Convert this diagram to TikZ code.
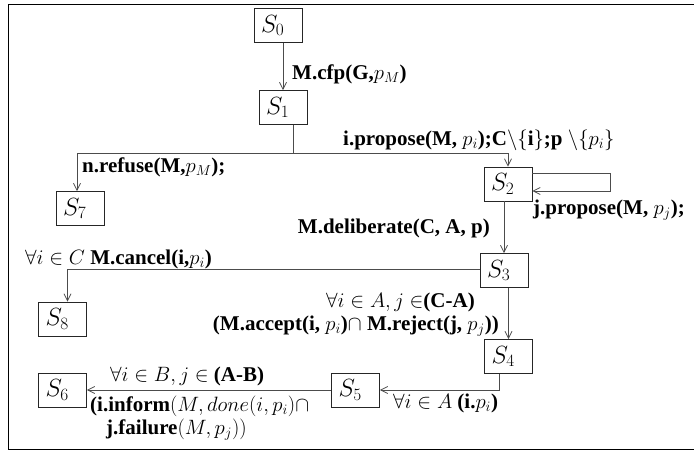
\documentclass[tikz,border=0pt]{standalone}
\usepackage{fontspec}
\setmainfont{Liberation Serif}
\usetikzlibrary{arrows.meta}
\newcommand\stlab[1]{\makebox[34pt][l]{$S_{#1}$}}
\begin{document}
\begin{tikzpicture}[x=1pt,y=-1pt,
  st/.style={draw=black!85, line width=0.8pt, minimum height=34pt, inner xsep=7pt, inner ysep=0pt, font=\fontsize{25}{25}\selectfont},
  lbl/.style={inner sep=0pt, font=\fontsize{21}{23}\selectfont\bfseries},
  conn/.style={draw=black!70, line width=0.8pt},
  arr/.style={conn, -{Straight Barb[length=7pt,width=7pt]}}
]
\useasboundingbox (0,0) rectangle (694,451);
\draw[line width=0.9pt] (8.5,4.5) rectangle (700,449.5);

% states
\node[st] (S0) at (278,25.5) {\stlab{0}};
\node[st] (S1) at (283,107.5) {\stlab{1}};
\node[st] (S2) at (508,184) {\stlab{2}};
\node[st] (S7) at (80,208.5) {\stlab{7}};
\node[st] (S3) at (504,270.5) {\stlab{3}};
\node[st] (S8) at (62.5,319) {\stlab{8}};
\node[st] (S4) at (508.5,356.5) {\stlab{4}};
\node[st] (S5) at (355.5,390) {\stlab{5}};
\node[st] (S6) at (62.5,390) {\stlab{6}};

% helper points
\coordinate (J) at (293,153);
\coordinate (L1) at (610,173);
\coordinate (L2) at (610,191);

% connectors
\draw[arr] (S0.south -| S1.north) -- (S1.north);
\draw[conn] ([xshift=10pt]S1.south) -- (J);
\draw[arr] (J) -| ([xshift=-3pt]S7.north);
\draw[arr] (J) -| (S2.north);
\draw[arr] (S2.east |- L1) -- (L1) -- (L2) -- (S2.east |- L2);
\draw[arr] (S2.south -| S3.north) -- (S3.north);
\draw[arr] ([yshift=1.5pt]S3.west) -| ([xshift=5pt]S8.north);
\draw[arr] (S3.south -| S4.north) -- (S4.north);
\draw[arr] ([xshift=-9.5pt]S4.south) |- (S5.east);
\draw[arr] (S5.west) -- (S6.east);

% labels
\node[lbl, anchor=west] (l01) at (292,74) {M.cfp(G,$p_M$)};
\node[lbl, anchor=west] (l12) at (343,140) {i.propose(M, $p_i$);C$\backslash\{$i$\}$;p $\backslash\{p_i\}$};
\node[lbl, anchor=west] (l17) at (82,167) {n.refuse(M,$p_M$);};
\node[lbl, anchor=west] (l22) at (533,210) {j.propose(M, $p_j$);};
\node[lbl, anchor=east] (l23) at (490,228) {M.deliberate(C, A, p)};
\node[lbl, anchor=west] (l38) at (25,259) {$\forall i\in C$ M.cancel(i,$p_i$)};
\node[lbl, anchor=east] (l34a) at (475,302) {$\forall i\in A, j\in$(C-A)};
\node[lbl, anchor=east] (l34b) at (499,326) {(M.accept(i, $p_i$)$\cap$ M.reject(j, $p_j$))};
\node[lbl, anchor=west] (l45) at (393,403) {$\forall i\in A$ (i.$p_i$)};
\node[lbl, anchor=west] (l56a) at (110,376) {$\forall i\in B, j\in$ (A-B)};
\node[lbl, anchor=west] (l56b) at (90,406) {(i.inform$(M,done(i,p_i)\cap$};
\node[lbl, anchor=west] (l56c) at (106,430) {j.failure$(M,p_j))$};
\end{tikzpicture}
\end{document}
